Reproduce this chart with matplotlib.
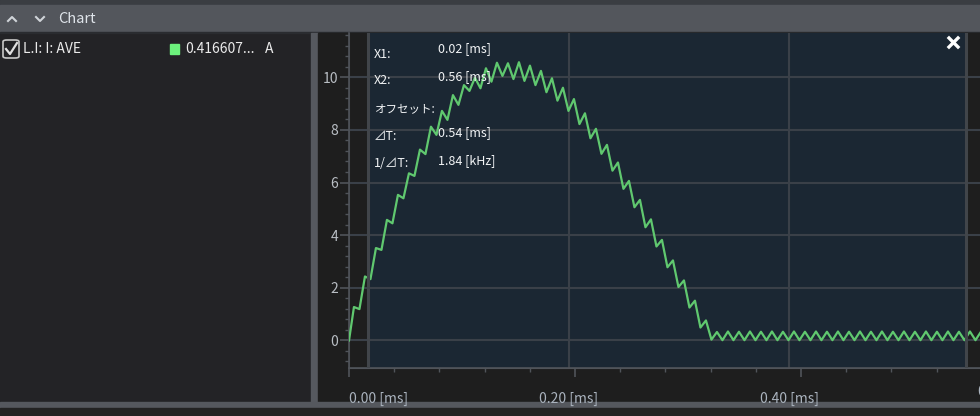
import numpy as np
import matplotlib.pyplot as plt
from matplotlib.patches import Rectangle, FancyBboxPatch
from matplotlib.lines import Line2D
from matplotlib.ticker import MultipleLocator, NullFormatter

plt.rcParams['font.family'] = ['Noto Sans CJK JP', 'DejaVu Sans']

# 波形 (三角波リップル付き電流, 頂点を 5 µs ごとに読み取り)
first_us = 4.5
step_us = 5.0
current_a = [0.0,
             1.27, 1.19, 2.43, 2.33, 3.51, 3.44, 4.58, 4.45, 5.53, 5.40,
             6.35, 6.25, 7.25, 7.08, 8.12, 7.81, 8.72, 8.38, 9.32, 8.95,
             9.70, 9.48, 9.98, 9.58, 10.34, 9.83, 10.55, 10.05, 10.53, 9.93,
             10.57, 9.86, 10.44, 9.70, 10.24, 9.43, 9.96, 9.11, 9.60, 8.72,
             9.17, 8.22, 8.63, 7.68, 8.04, 7.09, 7.43, 6.45, 6.76, 5.76,
             6.06, 5.06, 5.34, 4.30, 4.60, 3.57, 3.82, 2.78, 3.04, 2.03,
             2.28, 1.25, 1.51, 0.49, 0.76, 0.03,
             0.32, 0.01, 0.34, 0.01, 0.33, 0.01, 0.34, 0.01, 0.33, 0.01,
             0.34, 0.01, 0.33, 0.01, 0.34, 0.01, 0.33, 0.01, 0.34, 0.01,
             0.33, 0.01, 0.34, 0.01, 0.33, 0.01, 0.34, 0.01, 0.33, 0.01,
             0.34, 0.01, 0.33, 0.01, 0.34, 0.01, 0.33, 0.01, 0.34, 0.01,
             0.33, 0.01, 0.34, 0.01, 0.33, 0.01, 0.34, 0.01, 0.33, 0.01]
t_ms = np.r_[0.0, first_us + step_us * np.arange(len(current_a) - 1)] / 1000.0

# カーソル
x1_ms = 0.017
x2_ms = 0.561
x_ticks = [0.0, 0.2, 0.4]
x_labels = ['0.00 [ms]', '0.20 [ms]', '0.40 [ms]']
y_ticks = [0, 2, 4, 6, 8, 10]

series_name = 'L.I: I: AVE'
series_value = '0.416607...'
series_unit = 'A'

W, H = 980, 416
fig = plt.figure(figsize=(W / 100, H / 100), dpi=100, facecolor='#232326')


def fx(px):
    return px / W


def fy(py):
    return 1 - py / H


def rect(x, y, w, h, color):
    fig.patches.append(Rectangle((fx(x), fy(y + h)), w / W, h / H, color=color,
                                 transform=fig.transFigure, zorder=-5))


# 枠
rect(0, 0, W, 5, '#3a3d42')
rect(0, 5, W, 27, '#53565c')
rect(0, 32, W, 1, '#2a2c30')
rect(311, 33, 7, 369, '#56595f')
rect(318, 33, W - 318, 369, '#1e1e1e')
rect(0, 402, W, 6, '#55585e')
rect(0, 408, W, 8, '#232323')

# ヘッダー
fig.add_artist(Line2D([fx(8), fx(12), fx(16)], [fy(21), fy(17), fy(21)],
                      color='#d0d4d8', lw=1.5))
fig.add_artist(Line2D([fx(36), fx(40), fx(44)], [fy(17), fy(21), fy(17)],
                      color='#d0d4d8', lw=1.5))
fig.text(fx(58), fy(19), 'Chart', color='#dfe4ea', fontsize=10.5, va='center')

# 凡例
fig.patches.append(FancyBboxPatch((fx(3), fy(58)), 16 / W, 18 / H,
                                  boxstyle='round,pad=0,rounding_size=0.004',
                                  fc='none', ec='#c8c8c8', lw=1.2,
                                  transform=fig.transFigure))
fig.add_artist(Line2D([fx(6), fx(10), fx(17)], [fy(49), fy(54), fy(43)],
                      color='#e0e0e0', lw=1.6))
fig.text(fx(23), fy(49), series_name, color='#ebebeb', fontsize=10, va='center')
rect(170, 44, 9, 10, '#6cf17c')
fig.text(fx(185), fy(49), series_value, color='#ebebeb', fontsize=10, va='center')
fig.text(fx(265), fy(49), series_unit, color='#ebebeb', fontsize=10, va='center')

# グラフ
ax = fig.add_axes([fx(349), 48 / H, 631 / W, 335 / H])
ax.set_zorder(1)
ax.set_facecolor('#1e1e1e')
ax.set_axisbelow(True)
ax.axvspan(x1_ms, x2_ms, color='#1b2733', zorder=0, lw=0)
ax.plot(t_ms, current_a, color='#60c86f', lw=1.6, zorder=3)
ax.axvline(x1_ms, color='#41454a', lw=2.2, zorder=4)
ax.axvline(x2_ms, color='#41454a', lw=2.2, zorder=4)

ax.set_xlim(0, 631 / 1100)
ax.set_ylim(-1.047, 11.68)
ax.grid(True, which='major', color='#3a4048', lw=1.5)

for s in ['top', 'right']:
    ax.spines[s].set_visible(False)
for s in ['left', 'bottom']:
    ax.spines[s].set_color('#50545a')
    ax.spines[s].set_linewidth(1.2)

ax.set_yticks(y_ticks)
ax.yaxis.set_minor_locator(MultipleLocator(0.4))
ax.tick_params(axis='y', which='major', length=6.5, width=1.2, color='#50545a',
               labelcolor='#b9bec4', labelsize=10, pad=1.5)
ax.tick_params(axis='y', which='minor', length=3, width=1, color='#50545a')

ax.set_xticks(x_ticks)
ax.set_xticklabels(x_labels)
ax.tick_params(axis='x', which='major', length=0, labelcolor='#aab3be',
               labelsize=10, pad=17)
ax.get_xticklabels()[0].set_ha('left')

# 目盛り線 (ラベルと少しずれている)
sec = ax.secondary_xaxis('bottom', functions=(lambda x: x * 1100 / 1130,
                                              lambda x: x * 1130 / 1100))
sec.set_xticks([0.0, 0.2, 0.4])
sec.xaxis.set_minor_locator(MultipleLocator(0.04))
sec.xaxis.set_major_formatter(NullFormatter())
sec.tick_params(which='major', length=6.5, width=1.2, color='#50545a')
sec.tick_params(which='minor', length=3, width=1, color='#50545a')
sec.spines['bottom'].set_color('#50545a')
# 右端で切れている次の目盛りラベル
fig.text(fx(978), fy(392), '0.60 [ms]', color='#aab3be', fontsize=10,
         va='center', ha='left')

# カーソル情報
dt = x2_ms - x1_ms
info = [('X1:', 54, f'{x1_ms:.2f} [ms]', 49, 9),
        ('X2:', 81, f'{x2_ms:.2f} [ms]', 77, 9),
        ('オフセット:', 109, '', 109, 8.3),
        ('⊿T:', 137, f'{dt:.2f} [ms]', 133, 9),
        ('1/⊿T:', 164, f'{1 / dt:.2f} [kHz]', 161, 9)]
for lab, ly, val, vy, fs in info:
    fig.text(fx(374), fy(ly), lab, color='#f2f4f6', fontsize=fs, va='center',
             zorder=5)
    if val:
        fig.text(fx(438), fy(vy), val, color='#f2f4f6', fontsize=9, va='center',
                 zorder=5)

# 閉じるボタン
fig.add_artist(Line2D([fx(949), fx(958)], [fy(38), fy(47)], color='white',
                      lw=2.4, zorder=5))
fig.add_artist(Line2D([fx(949), fx(958)], [fy(47), fy(38)], color='white',
                      lw=2.4, zorder=5))

fig.savefig('out.png', dpi=100, facecolor=fig.get_facecolor())
